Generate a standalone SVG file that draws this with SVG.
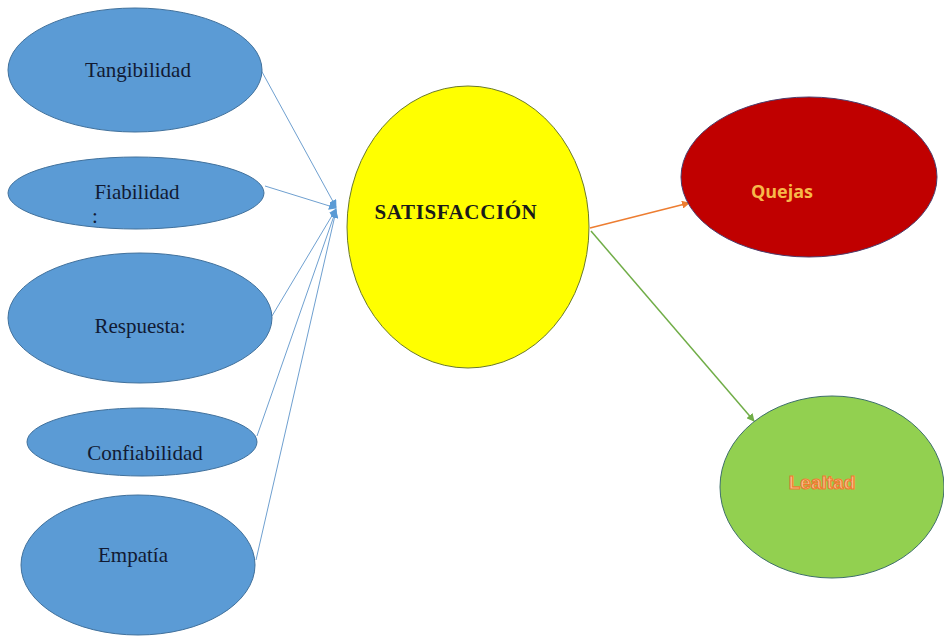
<svg xmlns="http://www.w3.org/2000/svg" width="944" height="636" viewBox="0 0 944 636">
<style>
.blue{fill:#5b9bd5;stroke:#41719c;stroke-width:1}
.lbl{font-family:"Liberation Serif",serif;font-size:21px;fill:#111a33;text-anchor:middle}
.conn{stroke:#6fa0d0;stroke-width:1;fill:none}
</style>
<defs>
<marker id="ab" markerWidth="8" markerHeight="8" refX="7" refY="4" orient="auto" markerUnits="userSpaceOnUse"><path d="M0,0 L8,4 L0,8 z" fill="#5b9bd5"/></marker>
<marker id="ao" markerWidth="8" markerHeight="8" refX="7" refY="4" orient="auto" markerUnits="userSpaceOnUse"><path d="M0,0 L8,4 L0,8 z" fill="#ed7d31"/></marker>
<marker id="ag" markerWidth="8" markerHeight="8" refX="7" refY="4" orient="auto" markerUnits="userSpaceOnUse"><path d="M0,0 L8,4 L0,8 z" fill="#70ad47"/></marker>
</defs>
<rect width="944" height="636" fill="#fff"/>
<g id="connectors">
<line class="conn" x1="261" y1="70" x2="336" y2="207" marker-end="url(#ab)"/>
<line class="conn" x1="265" y1="186" x2="336" y2="208" marker-end="url(#ab)"/>
<line class="conn" x1="272" y1="316" x2="336" y2="209" marker-end="url(#ab)"/>
<line class="conn" x1="257" y1="436" x2="336" y2="210" marker-end="url(#ab)"/>
<line class="conn" x1="256" y1="560" x2="336" y2="211" marker-end="url(#ab)"/>
<line x1="590" y1="228" x2="689" y2="203" stroke="#ed7d31" stroke-width="1.5" marker-end="url(#ao)"/>
<line x1="591" y1="231" x2="754" y2="421" stroke="#70ad47" stroke-width="1.5" marker-end="url(#ag)"/>
</g>
<g id="tangibilidad"><ellipse class="blue" cx="135" cy="70" rx="127" ry="62"/><text class="lbl" x="138" y="77">Tangibilidad</text></g>
<g id="fiabilidad"><ellipse class="blue" cx="136" cy="193" rx="128" ry="36"/><text class="lbl" x="137" y="199">Fiabilidad</text><text class="lbl" x="95" y="223">:</text></g>
<g id="respuesta"><ellipse class="blue" cx="140" cy="318" rx="132" ry="65"/><text class="lbl" x="140" y="333">Respuesta:</text></g>
<g id="confiabilidad"><ellipse class="blue" cx="142" cy="442" rx="115" ry="34"/><text class="lbl" x="145" y="460">Confiabilidad</text></g>
<g id="empatia"><ellipse class="blue" cx="138" cy="565" rx="117" ry="70"/><text class="lbl" x="133" y="562">Empatía</text></g>
<g id="satisfaccion"><ellipse cx="468" cy="227" rx="121" ry="141" fill="#ffff00" stroke="#6b7a2a" stroke-width="1"/><text x="456" y="219" font-family="Liberation Serif,serif" font-weight="bold" font-size="21" letter-spacing="0.6" fill="#1a1a1a" text-anchor="middle">SATISFACCIÓN</text></g>
<g id="quejas"><ellipse cx="809" cy="177" rx="128" ry="80" fill="#c00000" stroke="#4b3b6b" stroke-width="1"/><text x="782" y="198" font-family="Open Sans,Liberation Sans,sans-serif" font-weight="bold" font-size="18" fill="#f7b84a" text-anchor="middle">Quejas</text></g>
<g id="lealtad"><ellipse cx="832" cy="487" rx="112" ry="91" fill="#92d050" stroke="#3e6f6a" stroke-width="1"/><text x="822" y="489" font-family="Liberation Sans,sans-serif" font-weight="bold" font-size="19" fill="#f8c090" stroke="#ed7d31" stroke-width="1.2" text-anchor="middle">Lealtad</text></g>
</svg>
